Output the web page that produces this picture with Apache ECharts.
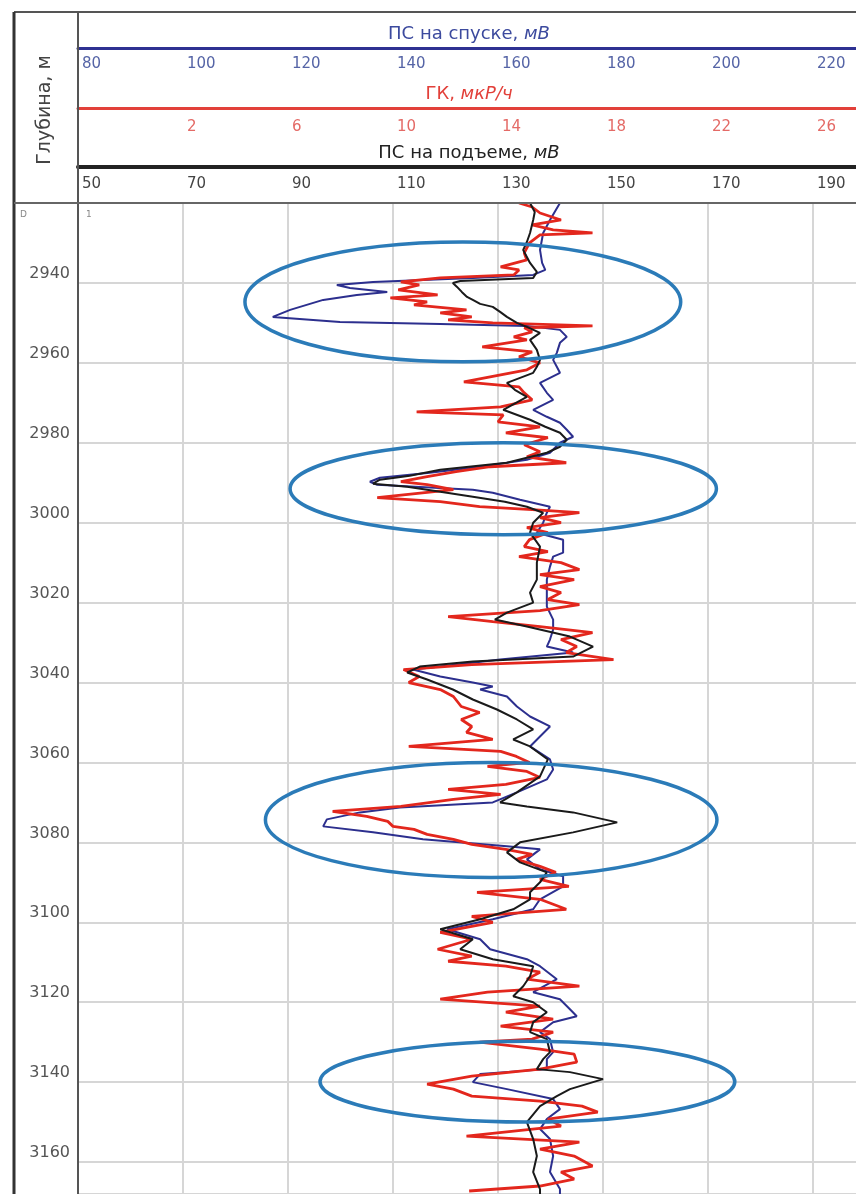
<!DOCTYPE html>
<html><head><meta charset="utf-8">
<script src="https://cdn.jsdelivr.net/npm/echarts@6/dist/echarts.min.js"></script>
<style>html,body{margin:0;padding:0;background:#fff}#c{width:856px;height:1194px}</style>
</head><body><div id="c"></div>
<script>
const FONT = "'DejaVu Sans','Liberation Sans',sans-serif";

// Depth axis (m)
const depthMin = 2920, depthMax = 3168, depthStep = 20;
// Scales of the three tracks
const spUpRange = [50, 198.95], spUpStep = 20;     // ПС на подъеме, мВ
const spDownRange = [80, 228.95], spDownStep = 20; // ПС на спуске, мВ
const gkRange = [-2, 27.79], gkStep = 4;           // ГК, мкР/ч

// ПС на подъеме (black)
const spUpDepth = [2920,2922.25,2924.25,2927.5,2929.75,2931.75,2935,2937.25,2938.75,2939.5,
2940,2941,2942.25,2943.5,2944.25,2945.25,2946,2947.25,2948.5,2950,
2951,2952.5,2954.25,2956.75,2959.25,2961,2962.5,2965,2966.75,2968.5,
2971.75,2974.25,2976,2977.5,2979.25,2981,2982.5,2985,2986.75,2988.25,
2989.25,2990.25,2991,2992.25,2993.5,2994.75,2996,2997.5,3000,3002.5,
3006,3010,3014.25,3017.5,3020,3022.5,3024.25,3026,3028.5,3031,
3033.5,3034.75,3036,3037.5,3039.25,3041.75,3044.25,3046.75,3049.25,3051.75,
3054.25,3056,3059.25,3063.5,3067.5,3070,3071,3072.5,3075,3077.5,
3080,3082.5,3085,3087.5,3090,3092.5,3094.25,3096.75,3099.25,3101.75,
3104.25,3106.75,3109.25,3111,3113.5,3116,3118.5,3120,3122.5,3125,
3127.5,3129.25,3132.5,3134.25,3136.75,3137.5,3139.25,3141.75,3143.5,3146,
3150,3154.25,3158.5,3162.5,3166.75,3168];
const spUpValue = [136.1,137,136.7,136.1,135.5,134.8,136.1,137.4,136.7,122.8,
121.4,122.2,123.1,124.1,125.2,126.6,129,130.4,131.7,133.6,
135.5,138,136.1,137.4,138,137.4,136.7,131.7,133.2,135.5,
131,136.1,139,141.8,143.1,141.8,139.3,131.7,119,113.2,
107.5,106.2,112.7,119,125.2,131.3,135.5,138.6,136.7,136.1,
138,137.4,137.4,136.1,136.7,131.7,129.4,135.5,143.7,148.1,
144.3,125.2,115.1,112.7,116.5,121.4,125.2,129.8,133.6,136.7,
132.9,136.1,139.5,138,133.6,130.4,135.5,144.3,152.7,144.3,
134.2,131.7,134.2,139.3,138,136.1,136.1,132.9,126.6,119,
125.2,122.8,129,136.7,136.1,134.8,132.9,136.7,139.3,136.7,
136.1,139.3,139.9,138.6,137.4,143.7,150,143.7,141.2,138,
135.5,136.7,137.4,136.7,138,138];

// ПС на спуске (blue)
const spDownDepth = [2920,2924.25,2927.5,2931.75,2935,2936.75,2938,2938.75,2939.75,2940.5,
2941.25,2942.25,2943,2944.25,2946.75,2948.5,2949.75,2950.25,2950.75,2951.75,
2953.5,2955,2957.5,2959.25,2961,2962.5,2965,2967.5,2969.25,2971.75,
2973.5,2975,2976.75,2978.5,2980,2982.5,2984.25,2986,2987.5,2988.75,
2989.75,2990.5,2991.75,2992.5,2994.25,2996,2997.5,3000,3002.5,3004.25,
3007.5,3008.5,3011,3014.25,3017.5,3021,3024.25,3026.75,3029.25,3031,
3032.5,3034.25,3036,3036.75,3038.5,3040,3041,3041.75,3043.5,3046,
3048.5,3051,3053.5,3056,3059.25,3061.75,3064.25,3067.5,3070,3071.25,
3072.5,3074.25,3076,3077.5,3079.25,3081,3081.75,3084.25,3086.75,3088.5,
3091,3094.25,3096.75,3099.25,3101.75,3104.25,3106.75,3109.25,3111,3114.25,
3117.5,3119.25,3121.75,3123.5,3125,3127.5,3129.25,3132.5,3134.25,3136.75,
3138,3140,3141.75,3144.25,3146.75,3149.25,3151.75,3154.25,3158.5,3162.5,
3166.75,3168];
const spDownValue = [171.8,169.9,168.6,168,168.4,169,166.7,155.2,136.2,129.3,
131.8,138.9,133.1,126.7,120.4,117.1,129.9,149,165.5,171.8,
173.1,171.8,171.2,170.5,171.2,171.8,168,169.3,170.5,166.7,
169.3,171.8,173.1,174.3,171.8,169.9,165.5,156.6,147,137.5,
135.6,137,155.2,159,164.2,169.9,169.3,168.6,167.4,172.4,
172.4,170.5,169.9,169.3,169.3,169.3,170.5,170.5,169.9,169.3,
174.3,160.4,149,143.8,149,155.2,159,156.6,161.7,163.6,
166.1,169.9,168,166.1,169.9,170.5,169.3,163.6,159,141.3,
133.7,127.4,126.7,136.2,145.7,161.7,168,165.5,168,172.4,
172.4,168,166.7,159,150.3,156.6,158.5,165.5,168,171.2,
166.7,171.8,173.7,175,170.5,168,169.9,170.5,169.3,169.3,
156.6,155.2,161.7,170.5,171.8,169.3,168,169.9,170.5,169.9,
171.8,171.8];

// ГК (red)
const gkDepth = [2920,2921,2922.5,2924.25,2925.5,2926.75,2927.5,2928,2930,2932.5,
2934.25,2936,2936.75,2938,2938.75,2939.75,2940.5,2941.75,2943,2943.75,
2944.75,2945.5,2946.75,2947.5,2948.5,2949.25,2950,2950.75,2951.25,2952.25,
2953.5,2954.25,2956,2957.25,2958.5,2960,2961.75,2964.75,2966,2967.5,
2969.25,2971,2972.25,2973,2974.75,2976,2977.5,2978.75,2980.5,2982.25,
2983.5,2985,2986,2987.25,2988.5,2989.75,2990.5,2991.75,2993.75,2994.75,
2996,2996.75,2997.5,2998.75,3000,3001.25,3002.5,3004.25,3006,3007.25,
3008.5,3010,3011.75,3013,3014.25,3016,3017.5,3019.25,3020.5,3022,
3023.5,3024.75,3026,3027.5,3029.25,3031,3032.5,3034.25,3035.5,3036.75,
3038.5,3040,3041.75,3043.5,3046,3047.5,3049.25,3051,3052.5,3054.25,
3056,3057.25,3058.5,3060,3061,3062.25,3063.75,3065.5,3066.75,3068,
3069.25,3071,3072.25,3073.5,3074.75,3076,3076.75,3078,3079.25,3080.5,
3081.75,3083,3084.25,3086,3087.5,3089.25,3091,3092.5,3094.25,3096.75,
3098.5,3100,3102.5,3104.25,3106.75,3108.5,3109.75,3111,3112.5,3114.25,
3116,3117.5,3119.25,3121,3122.5,3124.25,3126,3127.5,3129.25,3130,
3131.75,3133,3135,3136.75,3138.5,3140.5,3141.75,3143.5,3144.75,3146,
3147.5,3149.25,3151,3153.5,3155,3156.75,3158.5,3161,3162.5,3164.25,
3166,3167.25];
const gkValue = [14.8,15.3,15.6,16.4,15.3,16.1,17.6,15.6,15.2,15.0,
15.1,14.1,14.8,14.6,11.8,10.3,11.0,10.2,11.7,9.9,
11.3,10.8,12.8,11.8,13.0,12.1,13.8,17.6,15.0,15.3,
14.6,15.1,13.4,15.3,14.8,15.6,15.1,12.7,14.8,15.0,
15.3,14.1,10.9,14.2,14.0,15.6,14.3,15.9,15.0,15.6,
15.1,16.6,13.7,12.4,11.3,10.3,11.3,12.3,9.4,11.8,
13.3,15.3,17.1,15.6,16.4,15.1,15.9,15.2,15.0,15.9,
14.8,16.4,17.1,15.6,16.9,15.6,16.4,15.9,17.1,15.6,
12.1,13.8,15.6,17.6,16.4,17.0,16.6,18.4,13.0,10.4,
11.0,10.6,11.8,12.3,12.6,13.3,12.6,13.0,12.8,13.8,
10.6,14.1,14.7,15.2,13.6,15.1,15.6,14.3,12.1,14.1,
12.3,10.3,7.7,9.0,9.8,10.0,10.8,11.3,12.3,13.0,
14.3,15.3,14.7,15.6,16.2,15.6,16.7,13.2,15.6,16.6,
13.0,13.8,11.8,13.0,11.7,13.0,12.1,14.3,15.6,15.1,
17.1,13.6,11.8,15.6,14.3,16.1,14.1,16.1,15.3,13.3,
15.6,16.9,17.0,15.6,13.0,11.3,12.3,13.0,15.6,17.2,
17.8,15.9,16.4,12.8,17.1,15.6,16.9,17.6,16.4,16.9,
15.6,12.9];

// Highlighted zones (ellipses), in units of "ПС на подъеме" and depth
const zoneValue = [123.3, 131, 128.7, 135.6];
const zoneDepth = [2944.75, 2991.5, 3074.4, 3139.9];
const zoneHalfValue = [41.5, 40.6, 43, 39.5];
const zoneHalfDepth = [15, 11.5, 14.4, 10.1];

const zip = (v, d) => v.map((x, i) => [x, d[i]]);

const COL_BLUE = '#2c2f8e', COL_RED = '#e3271d', COL_BLACK = '#1a1a1a', COL_ZONE = '#2b7bb8';

function topAxis(range, step, offset, lineColor, lineW, labelColor, name, nameColor, margin, nameGap, hideMin) {
  return {
    type: 'value', position: 'top', offset: offset, gridIndex: 0,
    min: range[0], max: range[1], interval: step,
    name: name, nameLocation: 'middle', nameGap: nameGap,
    nameTextStyle: { color: nameColor, fontSize: 18, fontFamily: FONT,
      rich: { i: { fontStyle: 'italic', color: nameColor, fontSize: 18, fontFamily: FONT } } },
    axisLine: { show: true, lineStyle: { color: lineColor, width: lineW } },
    axisTick: { show: false },
    axisLabel: { inside: true, align: 'left', margin: margin, padding: [0, 0, 0, 4],
      color: labelColor, fontSize: 15, fontFamily: FONT,
      showMinLabel: !hideMin, showMaxLabel: false,
      formatter: v => (v < 0 ? '' : String(Math.round(v))) },
    splitLine: { show: false }
  };
}

const xAxes = [
  topAxis(spUpRange, spUpStep, 36, '#222', 4, '#444', 'ПС на подъеме, {i|мВ}', '#222', 10, 5, false),
  topAxis(gkRange, gkStep, 95, '#e2403a', 3, '#e46a66', 'ГК, {i|мкР/ч}', '#e2403a', 12, 3, true),
  topAxis(spDownRange, spDownStep, 155, '#2e3192', 3, '#5564a6', 'ПС на спуске, {i|мВ}', '#3c4a9e', 9, 5, false)
];
xAxes[0].splitLine = { show: true, lineStyle: { color: '#d6d6d6', width: 2 } };

const chart = echarts.init(document.getElementById('c'), null, { renderer: 'canvas' });
chart.setOption({
  animation: false,
  backgroundColor: '#fff',
  grid: { left: 78, top: 203, right: -4, bottom: 0, containLabel: false, outerBoundsMode: 'none' },
  xAxis: xAxes,
  yAxis: {
    type: 'value', inverse: true, min: depthMin, max: depthMax, interval: depthStep,
    axisLine: { show: false }, axisTick: { show: false },
    axisLabel: { color: '#555', fontSize: 16, fontFamily: FONT, margin: 8,
      verticalAlign: 'bottom', padding: [0, 0, 1, 0], showMinLabel: false, showMaxLabel: false,
      formatter: v => String(Math.round(v)) },
    splitLine: { show: true, lineStyle: { color: '#d6d6d6', width: 2 } }
  },
  series: [
    { name: 'ПС на спуске', type: 'line', xAxisIndex: 2, yAxisIndex: 0, symbol: 'none',
      data: zip(spDownValue, spDownDepth), lineStyle: { color: COL_BLUE, width: 2 }, z: 3 },
    { name: 'ГК', type: 'line', xAxisIndex: 1, yAxisIndex: 0, symbol: 'none',
      data: zip(gkValue, gkDepth), lineStyle: { color: COL_RED, width: 2.8 }, z: 4 },
    { name: 'ПС на подъеме', type: 'line', xAxisIndex: 0, yAxisIndex: 0, symbol: 'none',
      data: zip(spUpValue, spUpDepth), lineStyle: { color: COL_BLACK, width: 2 }, z: 5 },
    { name: 'zones', type: 'custom', xAxisIndex: 0, yAxisIndex: 0, z: 6,
      encode: { x: 0, y: 1 },
      data: zoneValue.map((v, i) => [v, zoneDepth[i], zoneHalfValue[i], zoneHalfDepth[i]]),
      renderItem: function (params, api) {
        const c = api.coord([api.value(0), api.value(1)]);
        const s = api.size([api.value(2), api.value(3)]);
        return { type: 'ellipse', shape: { cx: c[0], cy: c[1], rx: s[0], ry: s[1] },
          style: { fill: null, stroke: COL_ZONE, lineWidth: 3.5 } };
      } }
  ],
  graphic: [
    { type: 'line', shape: { x1: 14, y1: 12, x2: 856, y2: 12 }, style: { stroke: '#555', lineWidth: 2 }, z: 10 },
    { type: 'line', shape: { x1: 14, y1: 12, x2: 14, y2: 1194 }, style: { stroke: '#333', lineWidth: 3 }, z: 10 },
    { type: 'line', shape: { x1: 78, y1: 12, x2: 78, y2: 1194 }, style: { stroke: '#555', lineWidth: 2 }, z: 10 },
    { type: 'line', shape: { x1: 14, y1: 203, x2: 856, y2: 203 }, style: { stroke: '#666', lineWidth: 2 }, z: 10 },
    { type: 'text', x: 45, y: 110, rotation: Math.PI / 2,
      style: { text: 'Глубина, м', fontSize: 19, fontFamily: FONT, fill: '#444', align: 'center', verticalAlign: 'middle' }, z: 10 },
    { type: 'text', x: 20, y: 210, style: { text: 'D', fontSize: 9, fontFamily: FONT, fill: '#888' }, z: 10 },
    { type: 'text', x: 86, y: 210, style: { text: '1', fontSize: 9, fontFamily: FONT, fill: '#888' }, z: 10 }
  ]
});
</script>
</body></html>
